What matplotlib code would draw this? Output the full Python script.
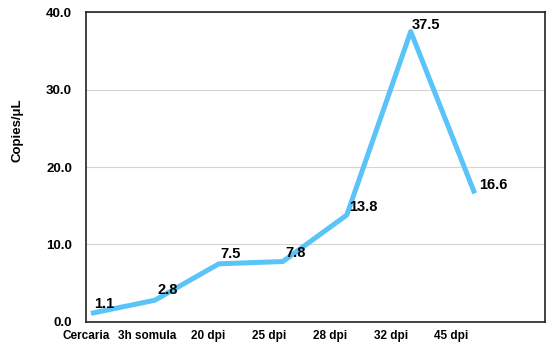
import numpy as np
import matplotlib.pyplot as plt

stages = ['Cercaria', '3h somula', '20 dpi', '25 dpi', '28 dpi', '32 dpi', '45 dpi']
copies = [1.1, 2.8, 7.5, 7.8, 13.8, 37.5, 16.6]
yticks = [0, 10, 20, 30, 40]

plt.rcParams['font.family'] = ['Liberation Sans', 'DejaVu Sans']
plt.rcParams['font.weight'] = 'bold'

fig = plt.figure(figsize=(5.5, 3.48), dpi=100)
ax = fig.add_axes([0.156, 0.075, 0.835, 0.89])

x = np.arange(len(stages))
ax.plot(x, copies, color='#5AC3F8', linewidth=3.6, solid_capstyle='butt', zorder=3)

# value labels
offsets = [(2, 2), (2, 2), (1, 2), (2, 1), (2, 1), (1, 0), (3, 1)]
for xi, yi, (dx, dy) in zip(x, copies, offsets):
    ax.annotate('%.1f' % yi, (xi, yi), xytext=(dx, dy), textcoords='offset points',
                fontsize=10.5, fontweight='bold', ha='left', va='bottom', zorder=4)

ax.set_xlim(0, 7.1)
ax.set_ylim(0, 40)
ax.set_yticks(yticks)
ax.set_yticklabels(['%.1f' % v for v in yticks], fontsize=9.5, fontweight='bold')
ax.set_xticks(x * 0.953 - 0.08)
ax.set_xticklabels(stages, fontsize=8.5, fontweight='bold')
ax.tick_params(axis='x', length=0, pad=6)
ax.tick_params(axis='y', length=0, pad=10)
ax.yaxis.grid(True, color='#d4d4d4', linewidth=0.8)
ax.set_axisbelow(True)
for s in ax.spines.values():
    s.set_linewidth(1.2)
    s.set_color('#222222')
ax.set_ylabel('Copies/μL', fontsize=9.5, fontweight='bold')
ax.yaxis.set_label_coords(-0.135, 0.62)

fig.savefig('out.png', dpi=100)
